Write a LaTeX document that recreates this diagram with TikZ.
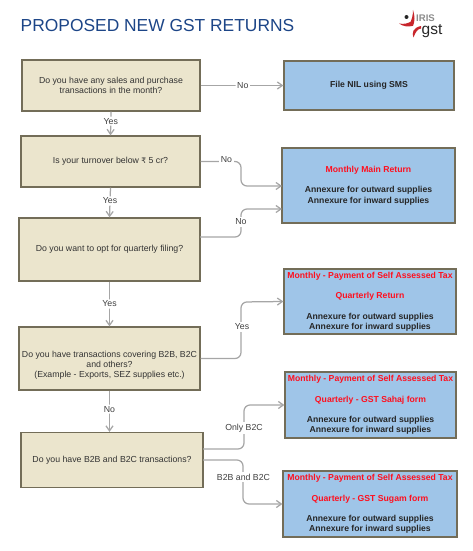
\documentclass[tikz,border=0pt]{standalone}
\usepackage{fontspec}
\setmainfont{Liberation Sans}
\usepackage{xcolor}
\usetikzlibrary{arrows.meta, positioning}
\definecolor{qfill}{HTML}{EBE5CD}
\definecolor{qline}{HTML}{736D58}
\definecolor{afill}{HTML}{9FC5E8}
\definecolor{titleblue}{HTML}{1C4587}
\definecolor{conngray}{HTML}{A6A6A6}
\definecolor{redtext}{HTML}{FF0F1E}
\definecolor{logored}{HTML}{C8262C}
\tikzset{
  qbox/.style={rectangle, draw=qline, line width=1.2pt, fill=qfill, align=center, inner sep=0pt, font=\fontsize{8.75}{10.2}\selectfont, text=black!80},
  abox/.style={rectangle, draw=qline, line width=1.2pt, fill=afill, align=center, inner sep=0pt, font=\bfseries\fontsize{8.65}{10.2}\selectfont, text=black!85},
  conn/.style={draw=conngray, line width=1.25pt, rounded corners=6pt, -{Straight Barb[length=5pt,width=7pt]}},
  lbl/.style={fill=white, inner sep=1.5pt, font=\fontsize{8.75}{10}\selectfont, text=black!75}
}
\newcommand{\red}[1]{\textcolor{redtext}{#1}}
\begin{document}
\begin{tikzpicture}[x=1pt,y=-1pt]
  \useasboundingbox (0,0) rectangle (472,551);
  \node[anchor=west, inner sep=0pt, text=titleblue, font=\fontsize{17.4}{20}\selectfont] (title) at (20.5,25.5) {PROPOSED NEW GST RETURNS};
  % logo
  \fill[logored] (413,10) .. controls (415,16) and (415,21) .. (413,26) -- (409,25) .. controls (412,20) and (413,15) .. cycle;
  \fill[logored] (399,23.5) .. controls (404,24.5) and (408,23.5) .. (412,21) -- (412,26) .. controls (408,27) and (403,26.5) .. cycle;
  \fill[logored] (413.5,37.5) .. controls (411.5,33) and (413,27.5) .. (421,26) -- (421,28.5) .. controls (417.5,29) and (415.5,32) .. cycle;
  \fill[black!85] (406.5,17) circle (2);
  \node[inner sep=0pt, text=black!45, font=\bfseries\fontsize{9.6}{10}\selectfont] (logoa) at (425.5,18.5) {IRIS};
  \node[inner sep=0pt, text=black!85, anchor=base, font=\fontsize{15.5}{16}\selectfont] (logob) at (432,34.5) {gst};

  \node[qbox, minimum width=178pt, minimum height=51pt] (q1) at (111,85.5) {Do you have any sales and purchase\\transactions in the month?};
  \node[qbox, minimum width=179pt, minimum height=51pt] (q2) at (110.5,161.5) {Is your turnover below {\fontspec{DejaVu Sans}\fontsize{7.6}{10}\selectfont ₹} 5 cr?};
  \node[qbox, minimum width=181pt, minimum height=63pt] (q3) at (109.5,249.5) {Do you want to opt for quarterly filing?};
  \node[qbox, minimum width=181pt, minimum height=63pt] (q4) at (109.5,358.5) {~\\~\\Do you have transactions covering B2B, B2C\\and others?\\(Example - Exports, SEZ supplies etc.)};
  \node[qbox, minimum width=182pt, minimum height=55pt] (q5) at (112,460) {Do you have B2B and B2C transactions?};

  \node[abox, minimum width=170pt, minimum height=49pt] (a1) at (369,85.5) {File NIL using SMS};
  \node[abox, minimum width=173pt, minimum height=75pt] (a2) at (368.5,185.5) {\red{Monthly Main Return}\\[10.2pt]Annexure for outward supplies\\Annexure for inward supplies};
  \node[abox, minimum width=172pt, minimum height=65pt] (a3) at (370,301.5) {\red{Monthly - Payment of Self Assessed Tax}\\[10.2pt]\red{Quarterly Return}\\[10.2pt]Annexure for outward supplies\\Annexure for inward supplies};
  \node[abox, minimum width=171pt, minimum height=66pt] (a4) at (370.5,405) {\red{Monthly - Payment of Self Assessed Tax}\\[10.2pt]\red{Quarterly - GST Sahaj form}\\[10.2pt]Annexure for outward supplies\\Annexure for inward supplies};
  \node[abox, minimum width=174pt, minimum height=66pt] (a5) at (370,504) {\red{Monthly - Payment of Self Assessed Tax}\\[10.2pt]\red{Quarterly - GST Sugam form}\\[10.2pt]Annexure for outward supplies\\Annexure for inward supplies};

  \coordinate (a2up) at (282,209);
  \coordinate (a2low) at (282,186);
  \coordinate (q3out) at (200,237);
  \coordinate (q5up) at (203,449);
  \coordinate (q5low) at (203,460);

  \draw[conn] (q1.east) -- (a1.west) node[lbl, pos=0.51] (no1) {No};
  \draw[conn] (q1.south) -- (q2.north) node[lbl, pos=0.4] (yes1) {Yes};
  \draw[conn] (q2.east) -- (241,161.5) -- (241,186) -- (a2low);
  \draw[conn] (q2.south) -- (q3.north) node[lbl, pos=0.45] (yes2) {Yes};
  \draw[conn] (q3out) -- (241,237) -- (241,209) -- (a2up);
  \draw[conn] (q3.south) -- (q4.north) node[lbl, midway] (yes3) {Yes};
  \draw[conn] (q4.east) -- (241,358.5) -- (241,302) -- (a3.west);
  \draw[conn] (q4.south) -- (q4.south |- q5.north) node[lbl, pos=0.45] (no4) {No};
  \draw[conn] (q5up) -- (244,449) -- (244,405) -- (a4.west);
  \draw[conn] (q5low) -- (243,460) -- (243,504) -- (a5.west);
  \node[lbl] (no2) at (226.5,160) {No};
  \node[lbl] (no3) at (241,222) {No};
  \node[lbl] (yes4) at (242,327) {Yes};
  \node[lbl] (only) at (244,428) {Only B2C};
  \node[lbl] (both) at (243.5,477) {B2B and B2C};
\end{tikzpicture}
\end{document}
